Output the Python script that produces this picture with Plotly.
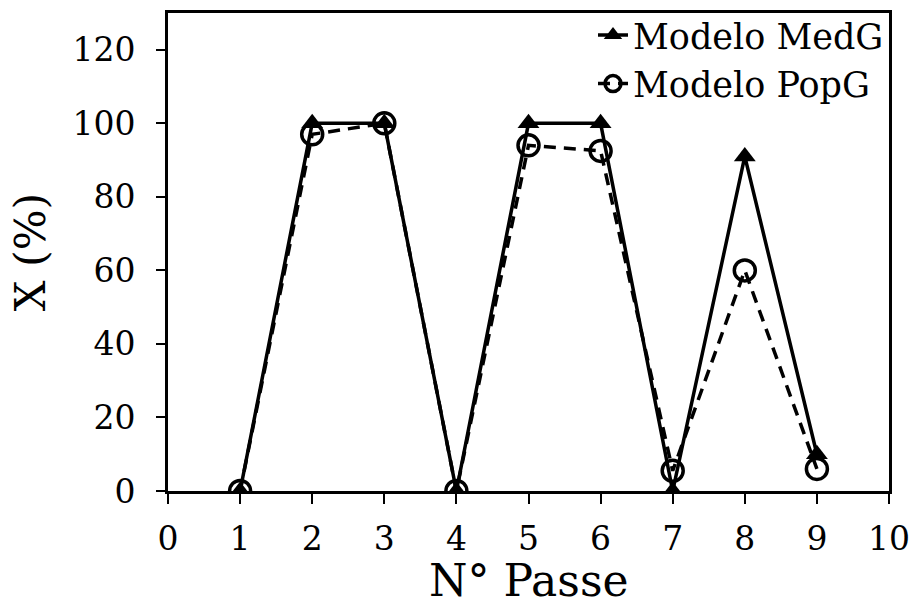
import plotly.graph_objects as go

passes = [1, 2, 3, 4, 5, 6, 7, 8, 9]
medg = [0, 100, 100, 0, 100, 100, 0, 91, 10]
popg = [0, 97, 100, 0, 94, 92.5, 5.5, 60, 6]

x_ticks = list(range(0, 11))
y_ticks = [0, 20, 40, 60, 80, 100, 120]

FONT = "DejaVu Serif"

fig = go.Figure()
fig.add_trace(go.Scatter(
    x=passes, y=medg, name="Modelo MedG", mode="lines+markers",
    line=dict(color="black", width=3.5),
    marker=dict(symbol="triangle-up", size=19, color="black"),
))
fig.add_trace(go.Scatter(
    x=passes, y=popg, name="Modelo PopG", mode="lines+markers",
    line=dict(color="black", width=3.5, dash="12px,8px"),
    marker=dict(symbol="circle-open", size=21, color="black",
                line=dict(width=3.5, color="black")),
))

# x-axis title placed as an annotation so it can sit low in the bottom margin
fig.add_annotation(
    text="N° Passe", xref="paper", yref="paper", x=0.5, y=-0.188,
    xanchor="center", yanchor="middle", showarrow=False,
    font=dict(size=44, family=FONT, color="black"),
)

fig.update_layout(
    width=913, height=610,
    margin=dict(l=168, r=24, t=13, b=119, autoexpand=False),
    paper_bgcolor="white", plot_bgcolor="white",
    font=dict(family=FONT, color="black", size=32),
    showlegend=True,
    legend=dict(x=1.0, y=1.015, xanchor="right", yanchor="top",
                bgcolor="rgba(0,0,0,0)", font=dict(size=35, family=FONT),
                tracegroupgap=0),
    xaxis=dict(
        range=[0, 10], tickvals=x_ticks, ticktext=[str(v) for v in x_ticks],
        showgrid=False, zeroline=False, showline=True, mirror=True,
        linecolor="black", linewidth=3, ticks="outside", ticklen=10,
        tickwidth=1.5, tickcolor="black", tickfont=dict(size=33),
        ticklabelstandoff=6, automargin=False,
    ),
    yaxis=dict(
        range=[0, 130], tickvals=y_ticks, ticktext=[str(v) for v in y_ticks],
        showgrid=False, zeroline=False, showline=True, mirror=True,
        linecolor="black", linewidth=3, ticks="outside", ticklen=9,
        tickwidth=1.5, tickcolor="black", tickfont=dict(size=33),
        ticklabelstandoff=14, automargin=False,
        title=dict(text="X (%)", font=dict(size=43), standoff=14),
    ),
)

fig.write_html("out.html")
